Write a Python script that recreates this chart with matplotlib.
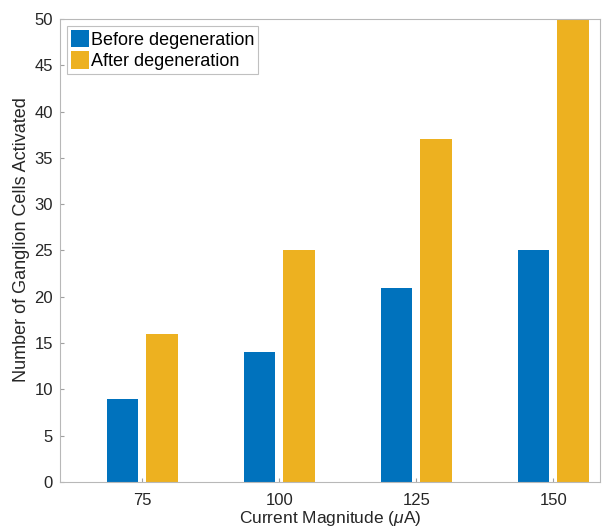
import matplotlib
matplotlib.use("Agg")
import matplotlib.pyplot as plt
import numpy as np

plt.rcParams['font.family'] = ['Liberation Sans', 'DejaVu Sans']
plt.rcParams['mathtext.fontset'] = 'custom'
plt.rcParams['mathtext.it'] = 'Liberation Sans:italic'
plt.rcParams['mathtext.rm'] = 'Liberation Sans'

currents = [75, 100, 125, 150]
before = [9, 14, 21, 25]
after = [16, 25, 37, 50]
series_labels = ["Before degeneration", "After degeneration"]

fig = plt.figure(figsize=(6.09, 5.31), dpi=100)
ax = fig.add_axes([0.0985, 0.0923, 0.8865, 0.8720])

x = np.array(currents, dtype=float)
width = 5.8
offset = 3.6
ax.bar(x - offset, before, width, color="#0072BD", label=series_labels[0])
ax.bar(x + offset, after, width, color="#EDB120", label=series_labels[1])

ax.set_xlim(60, 158.5)
ax.set_ylim(0, 50)
ax.set_xticks(currents)
ax.set_xticklabels([str(c) for c in currents])
ax.set_yticks(np.arange(0, 51, 5))

for s in ax.spines.values():
    s.set_color("#b8b8b8")
    s.set_linewidth(0.8)
ax.tick_params(direction="in", length=3, color="#a0a0a0", labelsize=12,
               labelcolor="#262626", top=False, right=False)
ax.tick_params(axis="x", pad=8)
ax.tick_params(axis="y", pad=5)

ax.set_xlabel("Current Magnitude ($\\mu$A)", fontsize=12.5, color="#262626", labelpad=1)
ax.set_ylabel("Number of Ganglion Cells Activated", fontsize=13, color="#262626")
ax.yaxis.set_label_coords(-0.056, 0.523)

leg = ax.legend(loc="upper left", fontsize=13, handlelength=1.0, handleheight=1.1,
                handletextpad=0.1, borderaxespad=0.4, borderpad=0.2,
                labelspacing=0.15, fancybox=False, framealpha=1)
leg.get_frame().set_edgecolor("#c0c0c0")
leg.get_frame().set_linewidth(0.8)

fig.savefig("out.png", dpi=100)
